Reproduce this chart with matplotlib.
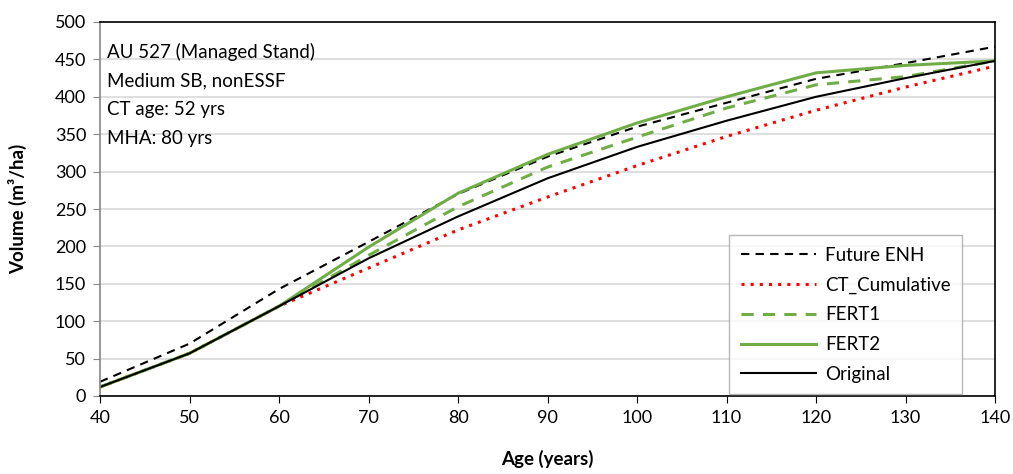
import matplotlib
matplotlib.use("Agg")
import matplotlib.pyplot as plt

plt.rcParams['font.family'] = ['Lato', 'DejaVu Sans']

ages = [40, 50, 60, 70, 80, 90, 100, 110, 120, 130, 140]
future_enh = [19, 70, 143, 206, 270, 320, 360, 392, 424, 445, 467]
ct_cumulative = [12, 57, 120, 171, 222, 266, 308, 347, 382, 413, 441]
fert1 = [12, 57, 120, 188, 253, 306, 346, 385, 416, 427, 448]
fert2 = [12, 57, 120, 199, 271, 323, 365, 400, 432, 442, 448]
original = [12, 57, 120, 184, 240, 291, 333, 368, 400, 425, 448]

info_lines = ["AU 527 (Managed Stand)", "Medium SB, nonESSF", "CT age: 52 yrs", "MHA: 80 yrs"]

fig = plt.figure(figsize=(10.13, 4.74), dpi=100)
ax = fig.add_axes([100/1013, 1-396/474, (995-100)/1013, (396-22)/474])

green = '#70ad47'
ax.plot(ages, future_enh, color='black', lw=1.5, ls=(0, (4, 3)), label='Future ENH')
ax.plot(ages, ct_cumulative, color='#ff0000', lw=2.2, ls=(0, (1, 2)), label='CT_Cumulative')
ax.plot(ages, fert1, color=green, lw=2.2, ls=(0, (4, 3)), label='FERT1')
ax.plot(ages, fert2, color=green, lw=2.2, label='FERT2')
ax.plot(ages, original, color='black', lw=1.5, label='Original')

ax.set_xlim(40, 140)
ax.set_ylim(0, 500)
ax.set_xticks(range(40, 141, 10))
ax.set_yticks(range(0, 501, 50))
ax.grid(axis='y', color='#d9d9d9', lw=1.2)
ax.set_axisbelow(True)
ax.tick_params(axis='both', labelsize=13, direction='out', length=5)
ax.tick_params(axis='y', color='#868686', pad=5)
ax.tick_params(axis='x', color='black', pad=5)
for s in ['top', 'right', 'bottom']:
    ax.spines[s].set_color('black')
ax.spines['left'].set_color('#868686')
for s in ax.spines.values():
    s.set_linewidth(1.2)

ax.set_xlabel('Age (years)', fontsize=13.5, fontweight='bold', labelpad=17)
ax.set_ylabel('Volume (m³/ha)', fontsize=13.5, fontweight='bold', labelpad=20)

ax.text(0.008, 0.945, "\n".join(info_lines), transform=ax.transAxes, fontsize=13.5,
        va='top', ha='left', linespacing=1.85)

leg = ax.legend(loc='lower right', bbox_to_anchor=(0.965, 0.0), borderaxespad=0.1,
                fontsize=13.5, frameon=True,
                fancybox=False, edgecolor='#a6a6a6', handlelength=4.0, labelspacing=0.68,
                borderpad=0.6, handletextpad=0.5)
leg.get_frame().set_linewidth(1.0)

fig.savefig('out.png', dpi=100)
